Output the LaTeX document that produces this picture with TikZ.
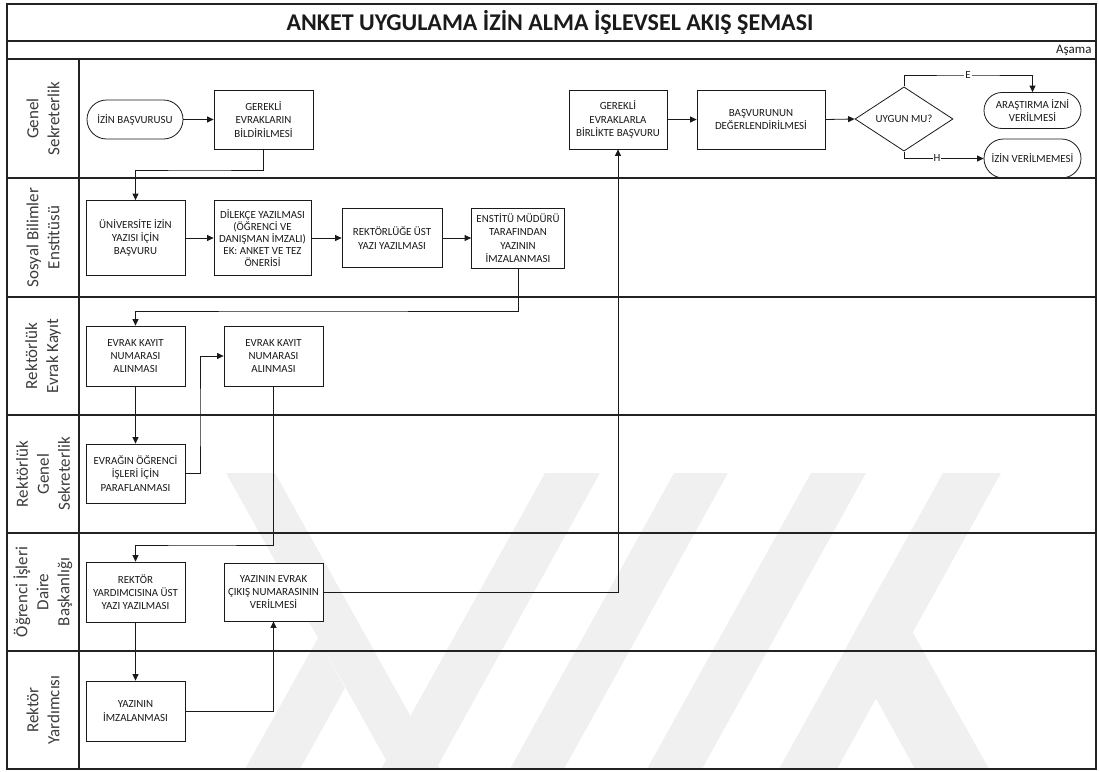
\documentclass[tikz,border=0pt]{standalone}
\usepackage{fontspec}
\setmainfont{Carlito}
\usetikzlibrary{arrows.meta,shapes.geometric,shapes.misc,calc}
\definecolor{ink}{HTML}{1A1A1A}
\definecolor{rulecol}{HTML}{222222}
\definecolor{wmgray}{HTML}{F0F0F0}

\begin{document}
\begin{tikzpicture}[x=1pt,y=-1pt,
  box/.style={draw=ink, line width=0.8pt, fill=white, align=center, inner sep=1pt,
              font=\fontsize{10.9}{13.3}\selectfont, text=ink},
  term/.style={box, rounded rectangle},
  dec/.style={box, diamond, inner sep=0pt},
  arr/.style={draw=ink, line width=0.8pt, -{Triangle[length=6.5pt,width=6pt]}},
  lbl/.style={fill=white, inner sep=1pt, font=\fontsize{10.9}{12}\selectfont, text=ink},
  lane/.style={draw=rulecol, line width=1.6pt},
  lanelabel/.style={rotate=90, align=center, font=\fontsize{17}{21}\selectfont, text=ink!85}
]
\useasboundingbox (0,0) rectangle (1099,771);

% faint background emblem
\fill[wmgray] (226,473) -- (275,473) -- (440,769) -- (391,769) -- cycle;
\fill[wmgray] (318,638) -- (345,688) -- (300,769) -- (245,769) -- cycle;
\fill[wmgray] (545,473) -- (600,473) -- (436,769) -- (381,769) -- cycle;
\fill[wmgray] (674,473) -- (728,473) -- (564,769) -- (510,769) -- cycle;
\fill[wmgray] (811,473) -- (866,473) -- (702,769) -- (647,769) -- cycle;
\fill[wmgray] (943,473) -- (1001,473) -- (837,769) -- (779,769) -- cycle;
\fill[wmgray] (883.5,580) -- (847,646) -- (915,769) -- (989,769) -- cycle;

% title and stage row
\node[font=\fontsize{24}{26}\bfseries\selectfont, text=ink] (title) at (550,22.5)
  {ANKET UYGULAMA İZİN ALMA İŞLEVSEL AKIŞ ŞEMASI};
\node[anchor=east, font=\fontsize{13}{15}\selectfont, text=ink] (asama) at (1095,50.5) {Aşama};

% lane labels
\node[lanelabel] (l1) at (43,118.5) {Genel\\Sekreterlik};
\node[lanelabel] (l2) at (43,237.5) {Sosyal Bilimler\\Enstitüsü};
\node[lanelabel] (l3) at (43,356) {Rektörlük\\Evrak Kayıt};
\node[lanelabel] (l4) at (43,474) {Rektörlük\\Genel\\Sekreterlik};
\node[lanelabel] (l5) at (43,592) {Öğrenci İşleri\\Daire\\Başkanlığı};
\node[lanelabel] (l6) at (43,710) {Rektör\\Yardımcısı};

% process steps
\node[term, minimum width=98pt, minimum height=39pt] (n1) at (135,119.5) {İZİN BAŞVURUSU};
\node[box, minimum width=99pt, minimum height=59pt] (n2) at (263.5,119.5) {GEREKLİ\\EVRAKLARIN\\BİLDİRİLMESİ};
\node[box, minimum width=99pt, minimum height=75pt] (n3) at (135.5,238) {ÜNİVERSİTE İZİN\\YAZISI İÇİN\\BAŞVURU};
\node[box, minimum width=97pt, minimum height=75pt, font=\fontsize{10.9}{12}\selectfont] (n4) at (262.5,238)
  {DİLEKÇE YAZILMASI\\(ÖĞRENCİ VE\\DANIŞMAN İMZALI)\\EK: ANKET VE TEZ\\ÖNERİSİ};
\node[box, minimum width=100pt, minimum height=59pt] (n5) at (392,238) {REKTÖRLÜĞE ÜST\\YAZI YAZILMASI};
\node[box, minimum width=93pt, minimum height=60pt] (n6) at (518,238) {ENSTİTÜ MÜDÜRÜ\\TARAFINDAN\\YAZININ\\İMZALANMASI};
\node[box, minimum width=99pt, minimum height=60pt] (n7) at (135.5,356) {EVRAK KAYIT\\NUMARASI\\ALINMASI};
\node[box, minimum width=99pt, minimum height=60pt] (n8) at (273.5,356) {EVRAK KAYIT\\NUMARASI\\ALINMASI};
\node[box, minimum width=99pt, minimum height=59pt] (n9) at (135.5,473.5) {EVRAĞIN ÖĞRENCİ\\İŞLERİ İÇİN\\PARAFLANMASI};
\node[box, minimum width=99pt, minimum height=60pt] (n10) at (135.5,592) {REKTÖR\\YARDIMCISINA ÜST\\YAZI YAZILMASI};
\node[box, minimum width=99pt, minimum height=58pt] (n11) at (273.5,592) {YAZININ EVRAK\\ÇIKIŞ NUMARASININ\\VERİLMESİ};
\node[box, minimum width=99pt, minimum height=60pt] (n12) at (135.5,711) {YAZININ\\İMZALANMASI};
\node[box, minimum width=98pt, minimum height=59pt] (n13) at (618,119.5) {GEREKLİ\\EVRAKLARLA\\BİRLİKTE BAŞVURU};
\node[box, minimum width=128pt, minimum height=59pt] (n14) at (761,119.5) {BAŞVURUNUN\\DEĞERLENDİRİLMESİ};
\node[dec, minimum width=98pt, minimum height=58pt] (n15) at (904,119) {UYGUN MU?};
\node[term, minimum width=99pt, minimum height=36pt, font=\fontsize{10.9}{12.5}\selectfont] (n16) at (1032.5,110.5) {ARAŞTIRMA İZNİ\\VERİLMESİ};
\node[term, minimum width=99pt, minimum height=39pt] (n17) at (1032.5,158.5) {İZİN VERİLMEMESİ};

% bend points
\coordinate (k1) at (200,170);
\coordinate (k2) at (300,311);
\coordinate (k3) at (200,420);
\coordinate (k4) at (200,545);
\coordinate (k5) at (968,75);

% connectors
\draw[arr] (n1.east) -- (n2.west);
\draw[arr] (n2.south) |- (k1) -| (n3.north);
\draw[arr] (n3.east) -- (n4.west);
\draw[arr] (n4.east) -- (n5.west);
\draw[arr] (n5.east) -- (n6.west);
\draw[arr] (n6.south) |- (k2) -| (n7.north);
\draw[arr] (n7.south) -- (n9.north);
\draw[arr] (n9.east) -| (k3) |- (n8.west);
\draw[arr] (n8.south) |- (k4) -| (n10.north);
\draw[arr] (n10.south) -- (n12.north);
\draw[arr] (n12.east) -| (n11.south);
\draw[arr] (n11.east) -| (n13.south);
\draw[arr] (n13.east) -- (n14.west);
\draw[arr] (n14.east) -- (n15.west);
\draw[arr] (n15.north) |- (k5) -| (n16.north);
\draw[arr] (n15.south) |- (n17.west);
\node[lbl] (yes) at (k5) {E};
\node[lbl] (no) at (937,158.5) {H};

% frame and lanes
\draw[lane] (7,4) rectangle (1096,769);
\draw[lane] (7,41) -- (1096,41);
\draw[lane] (7,59) -- (1096,59);
\draw[lane] (79,59) -- (79,769);
\foreach \y in {178,297,415,533,651} \draw[lane] (7,\y) -- (1096,\y);
\end{tikzpicture}
\end{document}
